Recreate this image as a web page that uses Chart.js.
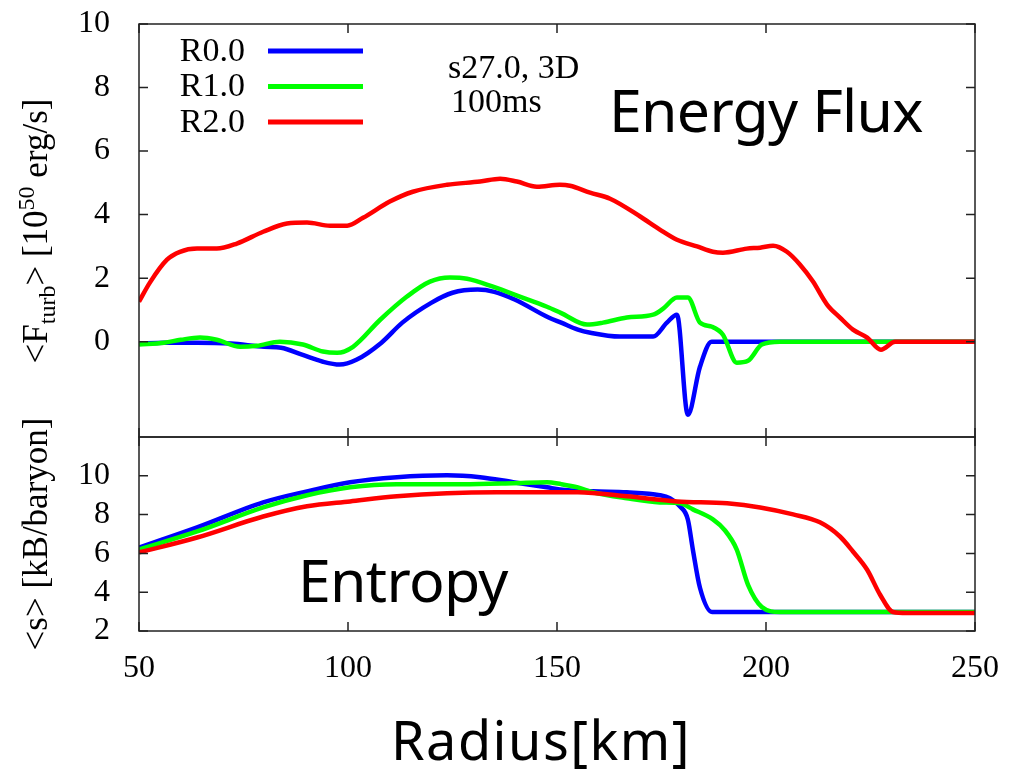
<!DOCTYPE html>
<html>
<head>
<meta charset="utf-8">
<script src="https://cdn.jsdelivr.net/npm/chart.js@4"></script>
<style>
  body { margin: 0; background: #fff; width: 1009px; height: 779px; position: relative; overflow: hidden; }
  canvas { position: absolute; left: 0; }
  .lbl { position: absolute; white-space: nowrap; line-height: 1; color: #000; }
  .serif { font-family: "Liberation Serif", "Times New Roman", serif; }
  .sans { font-family: "Noto Sans", "Open Sans", sans-serif; }
  .ytitle { position: absolute; transform: translate(-50%, -50%) rotate(-90deg); white-space: nowrap;
            line-height: 1; font-family: "Liberation Serif", serif; font-size: 35px; color: #000; }
  .ytitle sub, .ytitle sup { font-size: 24px; line-height: 0; }
</style>
</head>
<body>
<canvas id="fluxChart" width="1009" height="445" style="top:0"></canvas>
<canvas id="entropyChart" width="1009" height="349" style="top:430px"></canvas>

<div class="lbl serif" style="left:448px;top:50px;font-size:34px">s27.0, 3D</div>
<div class="lbl serif" style="left:451px;top:84px;font-size:34px">100ms</div>
<div class="lbl sans" style="left:609px;top:80px;font-size:59px;letter-spacing:-0.7px">Energy Flux</div>
<div class="lbl sans" style="left:298px;top:550px;font-size:59px;letter-spacing:-0.7px">Entropy</div>
<div class="lbl sans" style="left:391px;top:712px;font-size:54px;letter-spacing:1.5px">Radius[km]</div>
<div class="ytitle" style="left:35px;top:231px">&lt;F<sub>turb</sub>&gt; [10<sup>50</sup> erg/s]</div>
<div class="ytitle" style="left:35px;top:534px">&lt;s&gt; [kB/baryon]</div>

<script>
const radiusTicks = [50, 100, 150, 200, 250];
const fluxTicks = [0, 2, 4, 6, 8, 10];
const entropyTicks = [2, 4, 6, 8, 10];
const seriesNames = ['R0.0', 'R1.0', 'R2.0'];
const seriesColors = ['#0000ff', '#00ff00', '#ff0000'];

// turbulent energy flux [10^50 erg/s]
const fluxR0_r = [50, 56, 64, 72, 80, 84, 89, 94, 98, 102, 108, 113, 120, 125, 131, 135, 140, 148, 151, 155, 158, 165, 173, 176.3, 178.7, 181.3, 184.2, 187, 200, 250];
const fluxR0_v = [-0.06, -0.03, -0.03, -0.06, -0.16, -0.19, -0.41, -0.63, -0.72, -0.57, -0.03, 0.6, 1.23, 1.54, 1.64, 1.57, 1.32, 0.76, 0.6, 0.38, 0.28, 0.16, 0.16, 0.6, 0.85, -2.3, -0.79, 0, 0, 0];

const fluxR1_r = [50, 56, 60, 64.6, 68.6, 74.2, 78.2, 83.7, 89.2, 94, 97.4, 101.2, 107.7, 114.1, 119.6, 124.4, 128.5, 134.7, 141.1, 147.6, 151, 157.2, 161, 166.7, 173, 175.4, 178.7, 181.3, 184.2, 187.1, 189.7, 193, 195.7, 199, 203.3, 250];
const fluxR1_v = [-0.09, -0.03, 0.06, 0.13, 0.06, -0.16, -0.13, 0, -0.09, -0.31, -0.35, -0.16, 0.69, 1.42, 1.89, 2.02, 1.98, 1.73, 1.42, 1.1, 0.9, 0.54, 0.6, 0.76, 0.85, 1.04, 1.39, 1.39, 0.6, 0.47, 0.22, -0.66, -0.6, -0.09, 0, 0];

const fluxR2_r = [50, 52.6, 56.7, 59.8, 63.9, 68.6, 73.4, 79.7, 85.4, 90.2, 95.7, 99.8, 103.6, 110, 115.5, 123.7, 131.6, 136.4, 140.4, 145.2, 150.7, 153.1, 157.9, 162.7, 169.9, 174.6, 178.7, 183.5, 187.3, 189.7, 195.4, 198.6, 201.7, 205, 208.1, 211.2, 214.6, 217.7, 220.8, 224.2, 227.5, 230.9, 250];
const fluxR2_v = [1.26, 1.86, 2.58, 2.83, 2.93, 2.93, 3.09, 3.46, 3.72, 3.75, 3.65, 3.65, 3.9, 4.41, 4.72, 4.94, 5.04, 5.13, 5.04, 4.88, 4.94, 4.91, 4.69, 4.5, 3.94, 3.53, 3.21, 3.0, 2.83, 2.8, 2.93, 2.96, 3.02, 2.83, 2.43, 1.9, 1.17, 0.76, 0.38, 0.13, -0.25, 0, 0];

// entropy [kB/baryon]
const entR0_r = [50, 63.9, 79.7, 90.2, 100.5, 111.7, 123.7, 131.6, 139.5, 147.6, 150.7, 158.6, 166.7, 174.6, 177, 179.4, 181.3, 182.5, 184.2, 187.1, 250];
const entR0_s = [6.3, 7.34, 8.63, 9.2, 9.67, 9.93, 10.03, 9.93, 9.67, 9.41, 9.3, 9.2, 9.15, 9.0, 8.84, 8.43, 7.75, 6.2, 4.23, 2.98, 2.98];

const entR1_r = [50, 63.9, 79.7, 90.2, 100.5, 111.7, 127.5, 139.5, 147.6, 151, 155, 158.6, 166.7, 174.6, 179.4, 182.5, 187.3, 190.2, 193, 195.7, 199, 203.3, 250];
const entR1_s = [6.2, 7.13, 8.37, 9.0, 9.41, 9.57, 9.57, 9.62, 9.67, 9.57, 9.4, 9.15, 8.84, 8.63, 8.58, 8.27, 7.75, 7.18, 6.2, 4.38, 3.24, 2.98, 2.98];

const entR2_r = [50, 63.9, 79.7, 90.2, 100.5, 111.7, 123.7, 135.6, 155, 166.7, 178.7, 190.7, 198.6, 206.5, 212.9, 217.7, 220.8, 224.2, 227.3, 230.4, 233.7, 250];
const entR2_s = [6.05, 6.82, 7.9, 8.43, 8.68, 8.94, 9.1, 9.15, 9.15, 8.94, 8.68, 8.58, 8.37, 8.01, 7.6, 6.87, 6.1, 5.16, 3.87, 2.98, 2.93, 2.93];

const serifFont = '"Liberation Serif", "Times New Roman", serif';

function toPoints(xs, ys) {
    return xs.map((x, i) => ({ x: x, y: ys[i] }));
}

function createDataset(i, xs, ys) {
    return {
        label: seriesNames[i],
        data: toPoints(xs, ys),
        borderColor: seriesColors[i],
        borderWidth: 4.5,
        pointRadius: 0,
        fill: false,
        cubicInterpolationMode: 'monotone',
        order: 3 - i   // red on top, like the original
    };
}

// box around the panel plus inward ticks on all four sides
function frameTicks(yTicks) {
    return {
        id: 'frameTicks',
        afterDatasetsDraw(chart) {
            const ctx = chart.ctx;
            const a = chart.chartArea;
            const x = chart.scales.x, y = chart.scales.y;
            const len = 9;
            ctx.save();
            ctx.strokeStyle = '#222';
            ctx.lineWidth = 1.5;
            ctx.beginPath();
            radiusTicks.forEach(v => {
                const px = x.getPixelForValue(v);
                ctx.moveTo(px, a.top); ctx.lineTo(px, a.top + len);
                ctx.moveTo(px, a.bottom); ctx.lineTo(px, a.bottom - len);
            });
            yTicks.forEach(v => {
                const py = y.getPixelForValue(v);
                ctx.moveTo(a.left, py); ctx.lineTo(a.left + len, py);
                ctx.moveTo(a.right, py); ctx.lineTo(a.right - len, py);
            });
            ctx.stroke();
            ctx.strokeRect(a.left, a.top, a.right - a.left, a.bottom - a.top);
            ctx.restore();
        }
    };
}

// gnuplot style key: label, then a line sample to its right
const lineLegend = {
    id: 'lineLegend',
    afterDatasetsDraw(chart) {
        const ctx = chart.ctx;
        const a = chart.chartArea;
        ctx.save();
        ctx.font = '34px ' + serifFont;
        ctx.textAlign = 'right';
        ctx.textBaseline = 'middle';
        chart.data.datasets.forEach((ds, i) => {
            const cy = a.top + 27 + i * 35.5;
            ctx.fillStyle = '#000';
            ctx.fillText(ds.label, a.left + 106, cy + 1);
            ctx.strokeStyle = ds.borderColor;
            ctx.lineWidth = 5;
            ctx.beginPath();
            ctx.moveTo(a.left + 129, cy);
            ctx.lineTo(a.left + 224, cy);
            ctx.stroke();
        });
        ctx.restore();
    }
};

function createPanel(canvasId, datasets, yMin, yMax, yTicks, showX, padding, plugins) {
    return new Chart(document.getElementById(canvasId).getContext('2d'), {
        type: 'line',
        data: { datasets: datasets },
        options: {
            responsive: false,
            animation: false,
            layout: { padding: padding },
            plugins: {
                legend: { display: false },
                tooltip: { enabled: false }
            },
            scales: {
                x: {
                    type: 'linear',
                    min: 50,
                    max: 250,
                    display: showX,
                    afterBuildTicks: s => { s.ticks = radiusTicks.map(v => ({ value: v })); },
                    afterFit: s => {
                        if (showX) s.height = 148;
                        s.paddingLeft = 0;
                        s.paddingRight = 0;
                    },
                    grid: { display: false },
                    border: { display: false },
                    ticks: {
                        color: '#000',
                        padding: 10,
                        maxRotation: 0,
                        font: { family: serifFont, size: 32 }
                    }
                },
                y: {
                    type: 'linear',
                    min: yMin,
                    max: yMax,
                    afterBuildTicks: s => { s.ticks = yTicks.map(v => ({ value: v })); },
                    afterFit: s => {
                        s.width = 139;
                        s.paddingTop = 0;
                        s.paddingBottom = 0;
                    },
                    grid: { display: false },
                    border: { display: false },
                    ticks: {
                        color: '#000',
                        padding: 21,
                        font: { family: serifFont, size: 32 }
                    }
                }
            }
        },
        plugins: plugins
    });
}

createPanel('fluxChart', [
    createDataset(0, fluxR0_r, fluxR0_v),
    createDataset(1, fluxR1_r, fluxR1_v),
    createDataset(2, fluxR2_r, fluxR2_v)
], -3, 10, fluxTicks, false, { top: 24, bottom: 8, left: 0, right: 34 }, [frameTicks(fluxTicks), lineLegend]);

createPanel('entropyChart', [
    createDataset(0, entR0_r, entR0_s),
    createDataset(1, entR1_r, entR1_s),
    createDataset(2, entR2_r, entR2_s)
], 2, 12, entropyTicks, true, { top: 7, bottom: 0, left: 0, right: 34 }, [frameTicks(entropyTicks)]);
</script>
</body>
</html>
